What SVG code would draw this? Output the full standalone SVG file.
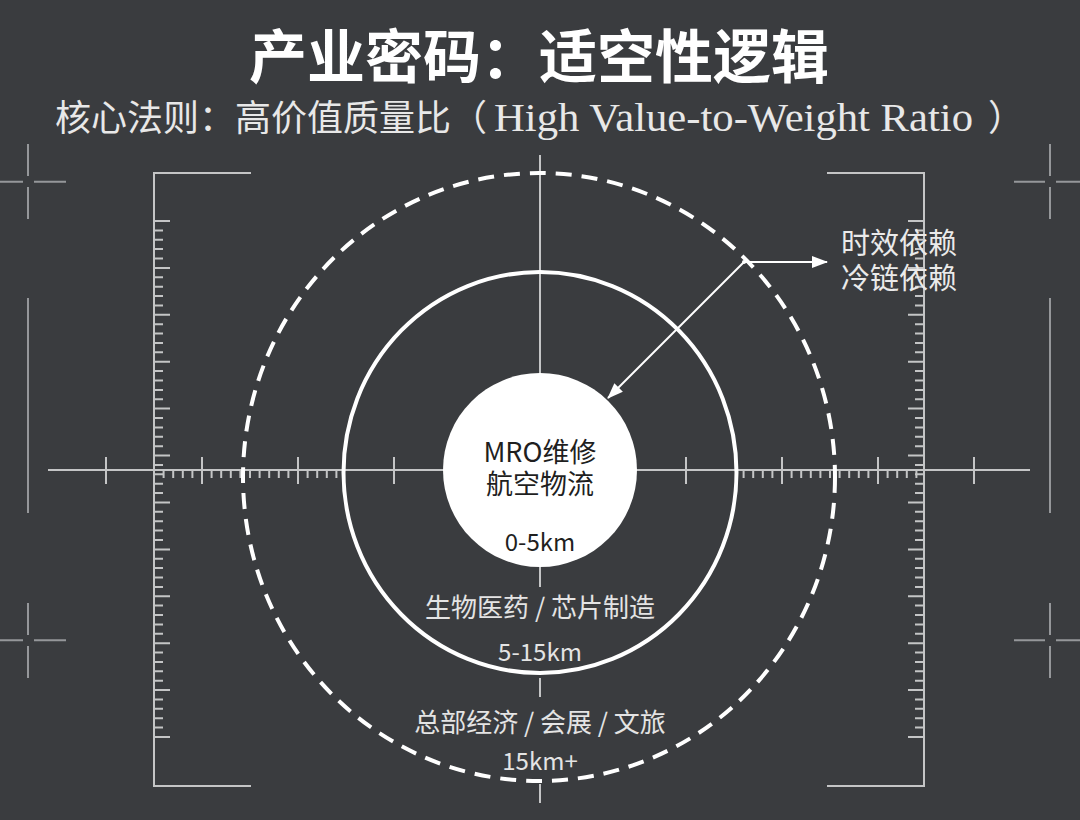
<svg xmlns="http://www.w3.org/2000/svg" width="1080" height="820" viewBox="0 0 1080 820">
<defs>
<style>
.ln{stroke:#c4c5c6;stroke-width:2;fill:none}
.cr{stroke:#95979a;stroke-width:2;fill:none}
.sans{font-family:"Noto Sans CJK SC","Noto Sans",sans-serif}
.lbl{fill:#e4e4e4;text-anchor:middle}
.dk{fill:#1f1f1f;text-anchor:middle}
.con{stroke:#ffffff;stroke-width:2;fill:none}
</style>
<marker id="ah" markerWidth="16" markerHeight="14" refX="15" refY="7" orient="auto" markerUnits="userSpaceOnUse">
<path d="M0,1 L16,7 L0,13 z" fill="#ffffff"/>
</marker>
</defs>
<rect width="1080" height="820" fill="#3a3c3f"/>

<g id="title">
<text x="539" y="78" class="sans" text-anchor="middle" font-size="58" font-weight="700" fill="#ffffff">产业密码：适空性逻辑</text>
</g>
<g id="subtitle">
<text y="131" font-size="36" fill="#e8e8e8"><tspan x="55" class="sans">核心法则：高价值质量比（</tspan><tspan x="494" font-family="Liberation Serif, serif" font-size="40" textLength="479" lengthAdjust="spacingAndGlyphs">High Value-to-Weight Ratio</tspan><tspan x="988" class="sans">）</tspan></text>
</g>

<g id="crosshairs" class="cr">
<path d="M28 144V176M28 187V219M0 181.7H23M34 181.7H66"/>
<path d="M28 603V635M28 646V678M0 640.3H23M34 640.3H66"/>
<path d="M1050 144V176M1050 187V219M1014 181.7H1045M1056 181.7H1080"/>
<path d="M1050 603V635M1050 646V678M1014 640.3H1045M1056 640.3H1080"/>
<path d="M28 298V513M1050 298V513"/>
</g>

<g id="brackets" class="ln">
<path d="M251 173H154V786H251"/>
<path d="M827 173H924V786H827"/>
<path d="M154 221h16M154 230.4h9M154 239.8h9M154 249.1h9M154 258.5h9M154 267.9h16M154 277.3h9M154 286.7h9M154 296.1h9M154 305.4h9M154 314.8h16M154 324.2h9M154 333.6h9M154 343h9M154 352.3h9M154 361.7h16M154 371.1h9M154 380.5h9M154 389.9h9M154 399.3h9M154 408.6h16M154 418h9M154 427.4h9M154 436.8h9M154 446.2h9M154 455.5h16M154 464.9h9M154 474.3h9M154 483.7h9M154 493.1h9M154 502.5h16M154 511.8h9M154 521.2h9M154 530.6h9M154 540h9M154 549.4h16M154 558.7h9M154 568.1h9M154 577.5h9M154 586.9h9M154 596.3h16M154 605.6h9M154 615h9M154 624.4h9M154 633.8h9M154 643.2h16M154 652.5h9M154 661.9h9M154 671.3h9M154 680.7h9M154 690.1h16M154 699.5h9M154 708.8h9M154 718.2h9M154 727.6h9M154 737h16"/>
<path d="M924 221h-16M924 230.4h-9M924 239.8h-9M924 249.1h-9M924 258.5h-9M924 267.9h-16M924 277.3h-9M924 286.7h-9M924 296.1h-9M924 305.4h-9M924 314.8h-16M924 324.2h-9M924 333.6h-9M924 343h-9M924 352.3h-9M924 361.7h-16M924 371.1h-9M924 380.5h-9M924 389.9h-9M924 399.3h-9M924 408.6h-16M924 418h-9M924 427.4h-9M924 436.8h-9M924 446.2h-9M924 455.5h-16M924 464.9h-9M924 474.3h-9M924 483.7h-9M924 493.1h-9M924 502.5h-16M924 511.8h-9M924 521.2h-9M924 530.6h-9M924 540h-9M924 549.4h-16M924 558.7h-9M924 568.1h-9M924 577.5h-9M924 586.9h-9M924 596.3h-16M924 605.6h-9M924 615h-9M924 624.4h-9M924 633.8h-9M924 643.2h-16M924 652.5h-9M924 661.9h-9M924 671.3h-9M924 680.7h-9M924 690.1h-16M924 699.5h-9M924 708.8h-9M924 718.2h-9M924 727.6h-9M924 737h-16"/>
</g>

<g id="axes" class="ln">
<path d="M48 470H1030"/>
<path d="M540 155V587M540 678V697M540 784V803"/>
<path d="M106 457V484M202 457V484M298 457V484M394 457V484M686 457V484M782 457V484M878 457V484M974 457V484"/>
<path d="M163.6 470v8M173.2 470v8M182.8 470v8M192.4 470v8M211.6 470v8M221.2 470v8M230.8 470v8M240.4 470v8M250 470v8M259.6 470v8M269.2 470v8M278.8 470v8M288.4 470v8M307.6 470v8M317.2 470v8M326.8 470v8M336.4 470v8"/>
<path d="M916.4 470v8M906.8 470v8M897.2 470v8M887.6 470v8M868.4 470v8M858.8 470v8M849.2 470v8M839.6 470v8M830 470v8M820.4 470v8M810.8 470v8M801.2 470v8M791.6 470v8M772.4 470v8M762.8 470v8M753.2 470v8M743.6 470v8"/>
</g>

<g id="zone-outer">
<ellipse cx="539" cy="477" rx="296" ry="304" fill="none" stroke="#ffffff" stroke-width="4" stroke-dasharray="16 10"/>
<text x="540" y="732" class="sans lbl" font-size="26">总部经济 / 会展 / 文旅</text>
<text x="540" y="770" class="sans lbl" font-size="24">15km+</text>
</g>

<g id="zone-middle">
<ellipse cx="540" cy="472.5" rx="196.5" ry="200.5" fill="none" stroke="#ffffff" stroke-width="4"/>
<text x="540" y="617" class="sans lbl" font-size="26">生物医药 / 芯片制造</text>
<text x="540" y="661" class="sans lbl" font-size="24">5-15km</text>
</g>

<g id="zone-core">
<circle cx="540" cy="470" r="97" fill="#ffffff"/>
<text class="sans dk" font-size="27"><tspan x="540" y="462">MRO维修</tspan><tspan x="540" y="494">航空物流</tspan></text>
<text x="540" y="551" class="sans dk" font-size="24">0-5km</text>
</g>

<g id="callout">
<text class="sans" font-size="29" fill="#eaeaea"><tspan x="841" y="254">时效依赖</tspan><tspan x="841" y="289">冷链依赖</tspan></text>
</g>

<g id="connectors">
<path class="con" d="M744 262H827" marker-end="url(#ah)"/>
<path class="con" d="M744 262L608 398" marker-end="url(#ah)"/>
<circle cx="744" cy="262" r="2" fill="#ffffff"/>
</g>
</svg>
